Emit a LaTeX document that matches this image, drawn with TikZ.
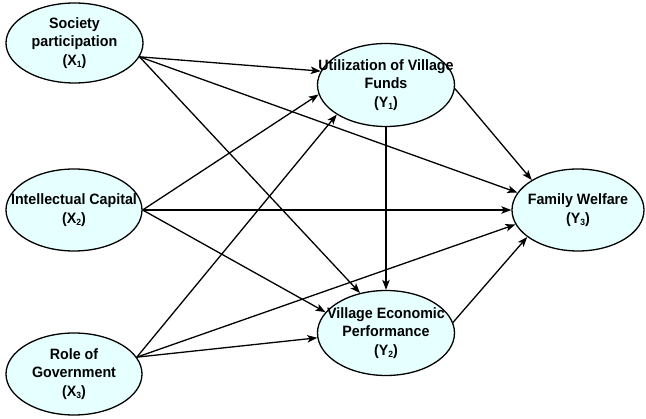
\documentclass[tikz,border=0pt]{standalone}
\usepackage{fontspec}
\newfontfamily\arialn{Liberation Sans}[FakeStretch=0.95]
\usetikzlibrary{shapes.geometric,arrows.meta}
\definecolor{ellfill}{HTML}{E6FFFF}
\newcommand\lowsub[1]{\raisebox{-0.3ex}{\fontsize{9}{9}\selectfont #1}}
\begin{document}
\begin{tikzpicture}[x=1pt,y=-1pt,
  ell/.style={ellipse,draw,fill=ellfill,line width=1.3pt,inner sep=0pt},
  lbl/.style={align=center,inner sep=0pt,font=\arialn\bfseries\fontsize{15}{18.5}\selectfont},
  conn/.style={line width=1.3pt,-{Stealth[length=10pt,width=7.5pt,inset=2.5pt]}}]
\useasboundingbox (0,0) rectangle (646,419);
\node[ell,minimum width=137pt,minimum height=80pt] (x1) at (74.5,43) {};
\node[ell,minimum width=136pt,minimum height=82pt] (x2) at (74,210) {};
\node[ell,minimum width=136pt,minimum height=82pt] (x3) at (74,374) {};
\node[ell,minimum width=137pt,minimum height=83pt] (y1) at (386,85) {};
\node[ell,minimum width=137pt,minimum height=85pt] (y2) at (386,333) {};
\node[ell,minimum width=132pt,minimum height=82pt] (y3) at (578,210) {};
\node[lbl] (tx1) at (x1) {Society\\participation\\(X\lowsub{1})};
\node[lbl] (tx2) at (x2) {Intellectual Capital\\(X\lowsub{2})};
\node[lbl] (tx3) at (x3) {Role of\\Government\\(X\lowsub{3})};
\node[lbl] (ty1) at (y1) {Utilization of Village\\Funds\\(Y\lowsub{1})};
\node[lbl] (ty2) at (y2) {Village Economic\\Performance\\(Y\lowsub{2})};
\node[lbl] (ty3) at (y3) {Family Welfare\\(Y\lowsub{3})};
% from X1
\draw[conn] (x1.-12) -- (y1.168);
\draw[conn] (x1.-12) -- (y3.164);
\draw[conn] (x1.-12) -- (y2.123);
% from X2
\draw[conn] (x2.0) -- (y1.188);
\draw[conn] (x2.0) -- (y3.180);
\draw[conn] (x2.0) -- (y2.161);
% from X3
\draw[conn] (x3.15) -- (y1.211);
\draw[conn] (x3.15) -- (y3.193);
\draw[conn] (x3.15) -- (y2.184);
% from Y1, Y2
\draw[conn] (y1.-3) -- (y3.147);
\draw[conn] (y1.-90) -- (y2.90);
\draw[conn] (y2.9) -- (y3.208);
\end{tikzpicture}
\end{document}
